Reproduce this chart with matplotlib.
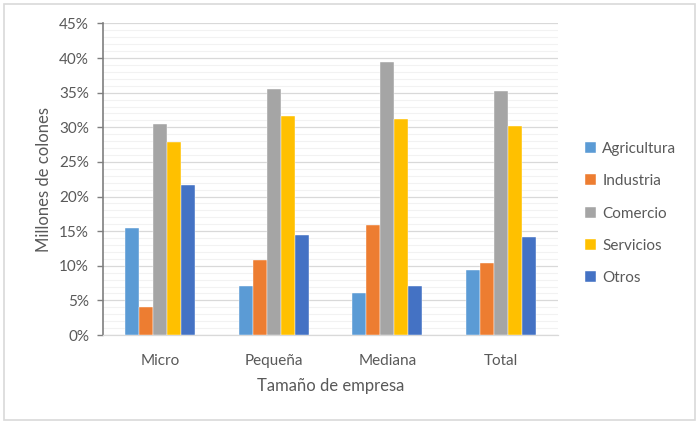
import numpy as np
import matplotlib
matplotlib.use('Agg')
import matplotlib.pyplot as plt
from matplotlib.ticker import MultipleLocator, PercentFormatter
from matplotlib.patches import Rectangle

categories = ['Micro', 'Pequeña', 'Mediana', 'Total']
series_names = ['Agricultura', 'Industria', 'Comercio', 'Servicios', 'Otros']
agricultura = [15.4, 7.1, 6.0, 9.4]
industria = [4.0, 10.9, 15.9, 10.4]
comercio = [30.5, 35.6, 39.4, 35.2]
servicios = [27.9, 31.6, 31.2, 30.2]
otros = [21.6, 14.4, 7.1, 14.2]
colors = ['#5B9BD5', '#ED7D31', '#A5A5A5', '#FFC000', '#4472C4']

text_color = '#595959'
plt.rcParams['font.family'] = ['Lato', 'DejaVu Sans']

fig = plt.figure(figsize=(6.99, 4.23), dpi=100)
ax = fig.add_axes([103 / 699, 1 - 335 / 423, 455 / 699, 311.5 / 423])

# border around the whole chart
fig.patches.append(Rectangle((4 / 699, 3 / 423), 691 / 699, 416 / 423,
                             transform=fig.transFigure, fill=False,
                             edgecolor='#D9D9D9', linewidth=1.2))

x = np.arange(len(categories))
width = 0.123
all_series = [agricultura, industria, comercio, servicios, otros]
for i, (name, vals) in enumerate(zip(series_names, all_series)):
    ax.bar(x + (i - 2) * width, vals, width, color=colors[i], label=name,
           edgecolor='white', linewidth=0.3, zorder=3)

ax.set_xlim(-0.5, 3.5)
ax.set_ylim(0, 45)
ax.yaxis.set_major_locator(MultipleLocator(5))
ax.yaxis.set_minor_locator(MultipleLocator(1))
ax.yaxis.set_major_formatter(PercentFormatter(decimals=0))
ax.grid(which='major', axis='y', color='#D9D9D9', linewidth=0.9, zorder=0)
ax.grid(which='minor', axis='y', color='#F2F2F2', linewidth=0.8, zorder=0)

for s in ['top', 'right']:
    ax.spines[s].set_visible(False)
ax.spines['left'].set_color('#7F7F7F')
ax.spines['left'].set_linewidth(1.2)
ax.spines['bottom'].set_color('#D9D9D9')
ax.spines['bottom'].set_linewidth(0.9)

ax.set_xticks(x)
ax.set_xticklabels(categories)
ax.tick_params(axis='x', length=0, pad=14, labelsize=11, labelcolor=text_color)
ax.tick_params(axis='y', which='major', length=4, color='#7F7F7F', width=1,
               labelsize=11, labelcolor=text_color, pad=6)
ax.tick_params(axis='y', which='minor', length=0)

ax.set_xlabel('Tamaño de empresa', fontsize=12, color=text_color, labelpad=7)
ax.set_ylabel('Millones de colones', fontsize=12, color=text_color, labelpad=5)

ax.legend(loc='center left', bbox_to_anchor=(1.03, 0.39), frameon=False,
          fontsize=11, labelcolor=text_color, handlelength=0.7, handleheight=0.7,
          handletextpad=0.4, labelspacing=1.2)

fig.savefig('out.png', dpi=100)
